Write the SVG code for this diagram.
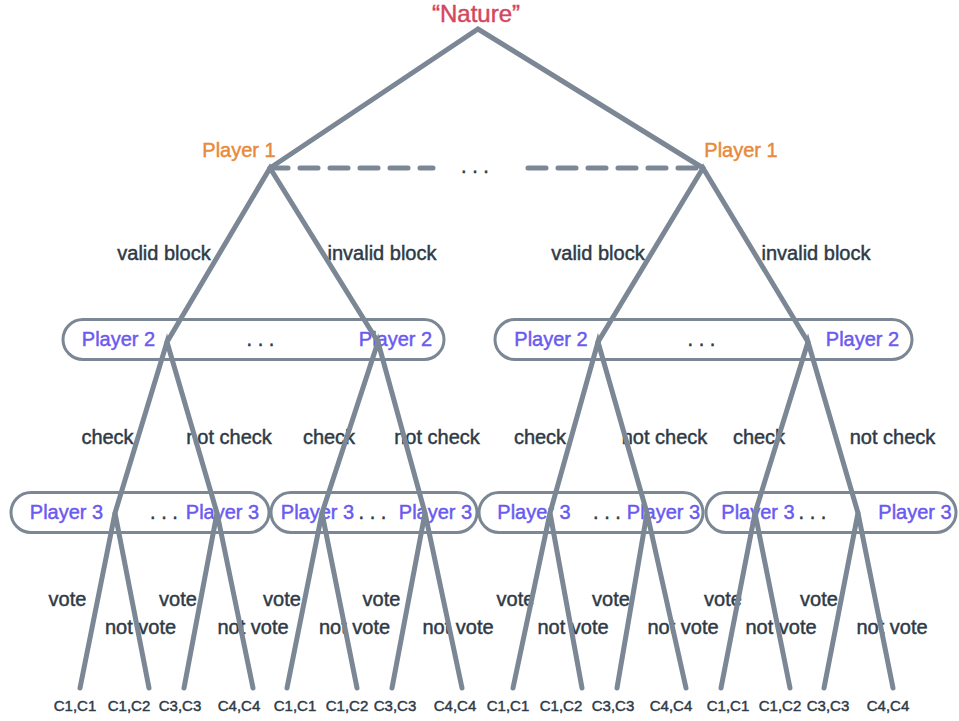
<svg xmlns="http://www.w3.org/2000/svg" width="959" height="721" viewBox="0 0 959 721">
<style>
text{font-family:"Liberation Sans",Arial,sans-serif;font-size:20px;text-anchor:middle;stroke-width:0.45px}
.nat{fill:#d6455d;stroke:#d6455d;font-size:24px}
.p1{fill:#e8893c;stroke:#e8893c}
.pl{fill:#6a5af0;stroke:#6a5af0}
.lb{fill:#2e3a46;stroke:#2e3a46}
.lf{fill:#2e3a46;stroke:#2e3a46;font-size:15px}
.box{fill:#fff;stroke:#7b8794;stroke-width:3}
.e{stroke:#7b8794;stroke-width:5;stroke-linecap:round;fill:none}
.d{stroke:#7b8794;stroke-width:5;stroke-linecap:round;stroke-dasharray:18 12;fill:none}
</style>
<rect width="959" height="721" fill="#fff"/>
<g id="nature"><text class="nat" x="476" y="22">“Nature”</text></g>
<g id="player1-left"><text class="p1" x="239" y="157">Player 1</text></g>
<g id="player1-right"><text class="p1" x="741" y="157">Player 1</text></g>
<g id="player1-info"><text class="lb" x="475" y="173">. . .</text></g>
<g id="player2-left">
<rect class="box" x="63" y="319.5" width="381" height="40" rx="20"/>
<text class="pl" x="118.5" y="346">Player 2</text>
<text class="lb" x="260.5" y="346">. . .</text>
<text class="pl" x="395.5" y="346">Player 2</text>
</g>
<g id="player2-right">
<rect class="box" x="495" y="319.5" width="417" height="40" rx="20"/>
<text class="pl" x="551" y="346">Player 2</text>
<text class="lb" x="701.5" y="346">. . .</text>
<text class="pl" x="862.5" y="346">Player 2</text>
</g>
<g id="player3-a">
<rect class="box" x="11" y="492.5" width="258" height="40" rx="20"/>
<text class="pl" x="66.5" y="519">Player 3</text>
<text class="lb" x="164" y="519">. . .</text>
<text class="pl" x="222.5" y="519">Player 3</text>
</g>
<g id="player3-b">
<rect class="box" x="271" y="492.5" width="206" height="40" rx="20"/>
<text class="pl" x="317.5" y="519">Player 3</text>
<text class="lb" x="372.5" y="519">. . .</text>
<text class="pl" x="435.5" y="519">Player 3</text>
</g>
<g id="player3-c">
<rect class="box" x="479" y="492.5" width="224" height="40" rx="20"/>
<text class="pl" x="534" y="519">Player 3</text>
<text class="lb" x="607" y="519">. . .</text>
<text class="pl" x="663.5" y="519">Player 3</text>
</g>
<g id="player3-d">
<rect class="box" x="706" y="492.5" width="250" height="40" rx="20"/>
<text class="pl" x="758" y="519">Player 3</text>
<text class="lb" x="812.5" y="519">. . .</text>
<text class="pl" x="915" y="519">Player 3</text>
</g>
<g id="leaves">
<text class="lf" x="75" y="711">C1,C1</text>
<text class="lf" x="129" y="711">C1,C2</text>
<text class="lf" x="180" y="711">C3,C3</text>
<text class="lf" x="239" y="711">C4,C4</text>
<text class="lf" x="295" y="711">C1,C1</text>
<text class="lf" x="347" y="711">C1,C2</text>
<text class="lf" x="395" y="711">C3,C3</text>
<text class="lf" x="455" y="711">C4,C4</text>
<text class="lf" x="508" y="711">C1,C1</text>
<text class="lf" x="561" y="711">C1,C2</text>
<text class="lf" x="613" y="711">C3,C3</text>
<text class="lf" x="671" y="711">C4,C4</text>
<text class="lf" x="728" y="711">C1,C1</text>
<text class="lf" x="780" y="711">C1,C2</text>
<text class="lf" x="828" y="711">C3,C3</text>
<text class="lf" x="888" y="711">C4,C4</text>
</g>
<g id="edge-labels">
<text class="lb" x="164" y="260">valid block</text>
<text class="lb" x="382" y="260">invalid block</text>
<text class="lb" x="598" y="260">valid block</text>
<text class="lb" x="816" y="260">invalid block</text>
<text class="lb" x="107.5" y="444">check</text>
<text class="lb" x="229" y="444">not check</text>
<text class="lb" x="329" y="444">check</text>
<text class="lb" x="437" y="444">not check</text>
<text class="lb" x="540" y="444">check</text>
<text class="lb" x="664.5" y="444">not check</text>
<text class="lb" x="759" y="444">check</text>
<text class="lb" x="892.5" y="444">not check</text>
<text class="lb" x="67.5" y="606">vote</text>
<text class="lb" x="178" y="606">vote</text>
<text class="lb" x="282" y="606">vote</text>
<text class="lb" x="381.5" y="606">vote</text>
<text class="lb" x="515.5" y="606">vote</text>
<text class="lb" x="611" y="606">vote</text>
<text class="lb" x="723" y="606">vote</text>
<text class="lb" x="819" y="606">vote</text>
<text class="lb" x="140.5" y="634">not vote</text>
<text class="lb" x="253" y="634">not vote</text>
<text class="lb" x="354.5" y="634">not vote</text>
<text class="lb" x="458" y="634">not vote</text>
<text class="lb" x="573" y="634">not vote</text>
<text class="lb" x="683" y="634">not vote</text>
<text class="lb" x="781" y="634">not vote</text>
<text class="lb" x="892" y="634">not vote</text>
</g>
<g id="connectors">
<line class="d" x1="270" y1="168" x2="433" y2="168"/>
<line class="d" x1="528" y1="168" x2="703" y2="168"/>
<path class="e" d="M270 168L478 29L703 168"/>
<path class="e" d="M167 342L270 168L378 342"/>
<path class="e" d="M598 342L703 168L808 342"/>
<path class="e" d="M115 513L167 342L217 513"/>
<path class="e" d="M322 513L378 342L425 513"/>
<path class="e" d="M550 513L598 342L647 513"/>
<path class="e" d="M755 513L808 342L858 513"/>
<path class="e" d="M80 688L115 513L149 688"/>
<path class="e" d="M184 688L217 513L253 688"/>
<path class="e" d="M287 688L322 513L357 688"/>
<path class="e" d="M392 688L425 513L462 688"/>
<path class="e" d="M513 688L550 513L582 688"/>
<path class="e" d="M617 688L647 513L686 688"/>
<path class="e" d="M721 688L755 513L790 688"/>
<path class="e" d="M824 688L858 513L893 688"/>
</g>
</svg>
